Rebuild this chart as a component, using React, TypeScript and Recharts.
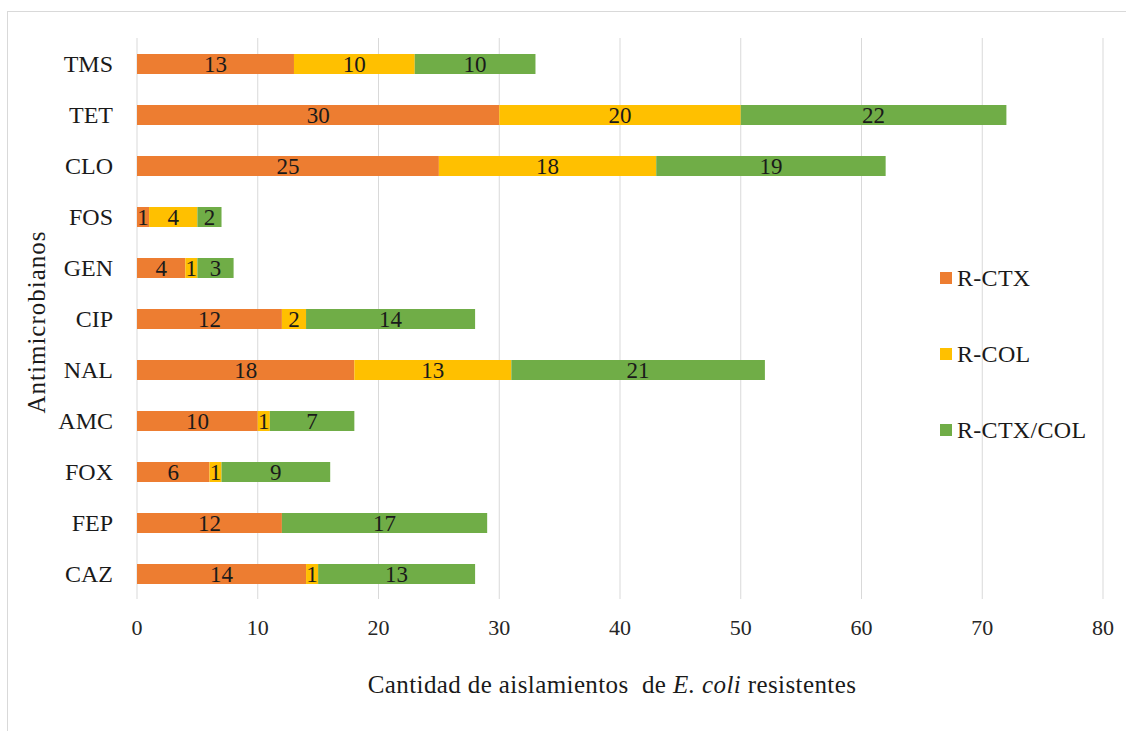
import { BarChart, Bar, XAxis, YAxis, CartesianGrid, LabelList, Label } from 'recharts';

const antimicrobials = ['TMS', 'TET', 'CLO', 'FOS', 'GEN', 'CIP', 'NAL', 'AMC', 'FOX', 'FEP', 'CAZ'];
const rCtx = [13, 30, 25, 1, 4, 12, 18, 10, 6, 12, 14];
const rCol = [10, 20, 18, 4, 1, 2, 13, 1, 1, 0, 1];
const rCtxCol = [10, 22, 19, 2, 3, 14, 21, 7, 9, 17, 13];
const xTicks = [0, 10, 20, 30, 40, 50, 60, 70, 80];

const series = [
	{ key: 'rCtx', name: 'R-CTX', color: '#ED7D31' },
	{ key: 'rCol', name: 'R-COL', color: '#FFC000' },
	{ key: 'rCtxCol', name: 'R-CTX/COL', color: '#70AD47' },
];

const data = antimicrobials.map((name, i) => ({
	name,
	rCtx: rCtx[i],
	rCol: rCol[i],
	rCtxCol: rCtxCol[i],
}));

const FONT = '"Liberation Serif", "Times New Roman", serif';

// legend sits to the right of the bars, inside the plot area
const LegendBox = () => (
	<div style={{ position: 'absolute', left: 940, top: 264, fontFamily: FONT, fontSize: 24, letterSpacing: 0.3, color: '#1a1a1a' }}>
		{series.map((s) => (
			<div key={s.key} style={{ display: 'flex', alignItems: 'center', height: 28, marginBottom: 48 }}>
				<span style={{ width: 12, height: 12, background: s.color, display: 'inline-block', marginRight: 5 }} />
				<span>{s.name}</span>
			</div>
		))}
	</div>
);

const hideZero = (v: any) => (v ? v : '');

const App = () => {
	return (
		<div style={{ position: 'fixed', left: 0, top: 0, width: 1126, height: 731, background: '#fff', overflow: 'hidden' }}>
			<div
				style={{
					position: 'absolute',
					left: 7,
					top: 11,
					width: 1200,
					height: 800,
					borderTop: '1px solid #d9d9d9',
					borderLeft: '1px solid #d9d9d9',
				}}
			/>
			<div style={{ position: 'absolute', left: 0, top: 0 }}>
				<BarChart
					width={1126}
					height={731}
					data={data}
					layout="vertical"
					barSize={20}
					margin={{ top: 38, right: 23, bottom: 0, left: 0 }}
				>
					<CartesianGrid horizontal={false} stroke="#d9d9d9" />
					<XAxis
						type="number"
						domain={[0, 80]}
						ticks={xTicks}
						axisLine={false}
						tickLine={false}
						tickMargin={14}
						height={132}
						tick={{ fill: '#262626', fontSize: 22, fontFamily: FONT }}
					>
						<Label
							content={() => (
								<text
									x={612}
									y={693}
									textAnchor="middle"
									fill="#1a1a1a"
									fontSize={25}
									letterSpacing={0.4}
									fontFamily={FONT}
									style={{ whiteSpace: 'pre' }}
								>
									Cantidad de aislamientos{'  '}de <tspan fontStyle="italic">E. coli</tspan> resistentes
								</text>
							)}
						/>
					</XAxis>
					<YAxis
						type="category"
						dataKey="name"
						width={137}
						axisLine={false}
						tickLine={false}
						tickMargin={18}
						tick={{ fill: '#1a1a1a', fontSize: 24, fontFamily: FONT }}
					>
						<Label
							content={() => (
								<text
									x={45}
									y={322}
									textAnchor="middle"
									transform="rotate(-90 45 322)"
									fill="#1a1a1a"
									fontSize={25}
									letterSpacing={1}
									fontFamily={FONT}
								>
									Antimicrobianos
								</text>
							)}
						/>
					</YAxis>
					{series.map((s) => (
						<Bar key={s.key} dataKey={s.key} name={s.name} stackId="a" fill={s.color} isAnimationActive={false}>
							<LabelList
								dataKey={s.key}
								position="center"
								formatter={hideZero}
								fill="#1a1a1a"
								fontSize={23}
								fontFamily={FONT}
							/>
						</Bar>
					))}
				</BarChart>
			</div>
			<LegendBox />
		</div>
	);
};

export default App;
